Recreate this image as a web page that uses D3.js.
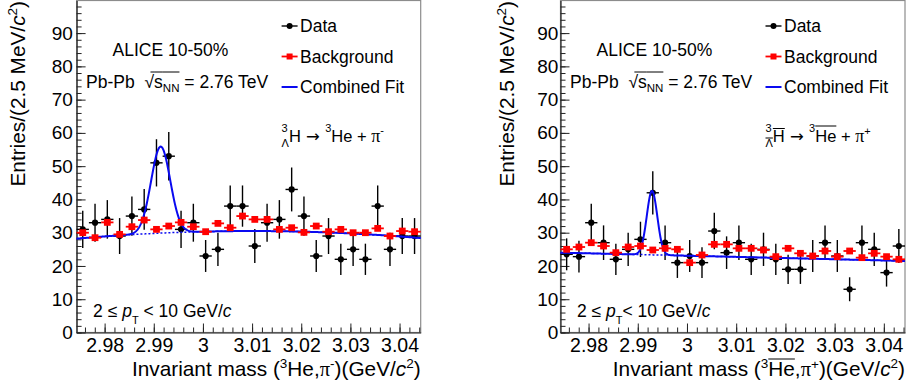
<!DOCTYPE html>
<html>
<head>
<meta charset="utf-8">
<title>Hypertriton invariant mass spectra</title>
<script src="https://d3js.org/d3.v7.min.js"></script>
<style>
  body { margin: 0; padding: 0; background: #fff; }
  svg { display: block; font-family: "Liberation Sans", Arial, Helvetica, sans-serif; }
</style>
</head>
<body>
<div id="graph"></div>
<script>
// histogram: 28 bins of 2.5 MeV
var massRange = [2.9743, 3.0443];
var binWidth = 0.0025;
var binCenters = [2.97555, 2.97805, 2.98055, 2.98305, 2.98555, 2.98805, 2.99055, 2.99305,
  2.99555, 2.99805, 3.00055, 3.00305, 3.00555, 3.00805, 3.01055, 3.01305, 3.01555, 3.01805,
  3.02055, 3.02305, 3.02555, 3.02805, 3.03055, 3.03305, 3.03555, 3.03805, 3.04055, 3.04305];

// left: hypertriton -> 3He + pi-
var dataLeft = [31, 33, 34, 29, 35, 37, 51, 53, 31, 33, 23, 25, 38, 38, 26, 33, 34, 43, 35, 23, 29, 22, 25, 22, 38, 25, 29, 29];
var errLeft = [5.6, 5.7, 5.8, 5.4, 5.9, 6.1, 7.1, 7.3, 5.6, 5.7, 4.8, 5.0, 6.2, 6.2, 5.1, 5.7, 5.8, 6.6, 5.9, 4.8, 5.4, 4.7, 5.0, 4.7, 6.2, 5.0, 5.4, 5.4];
var bkgLeft = [30, 28.5, 33.1, 29.5, 31.8, 33.8, 31, 32, 33.1, 31.8, 30.3, 32.8, 31.5, 35, 34, 34, 31, 31.5, 30.1, 32, 30.3, 31, 30, 30, 31.3, 29, 30.5, 30.3];
// fit: gaussian [mean, sigma, amplitude] + polynomial in (m - 3.01)
var peakLeft = [2.9914, 0.00195, 26];
var polLeft = [30.5, 0, -1800];

// right: anti-hypertriton -> anti-3He + pi+
var dataRight = [23.5, 22.8, 33, 27, 22, 25, 28, 42, 27, 21, 23, 21, 30.5, 24, 27, 22, 25, 22, 19, 19, 23, 27, 23, 13, 27, 25, 18, 26];
var errRight = [4.8, 4.8, 5.7, 5.2, 4.7, 5.0, 5.3, 6.5, 5.2, 4.6, 4.8, 4.6, 5.5, 4.9, 5.2, 4.7, 5.0, 4.7, 4.4, 4.4, 4.8, 5.2, 4.8, 3.6, 5.2, 5.0, 4.2, 5.1];
var bkgRight = [25, 25.7, 27, 26, 24, 25.7, 26, 24.8, 25.3, 25, 21, 23.3, 26.5, 26.5, 25.3, 25.3, 24.8, 22.8, 25.3, 23.8, 23, 24.5, 22.8, 24.5, 22.5, 23.8, 22.8, 22];
var peakRight = [2.9929, 0.00107, 19.2];
var polRight = [22.73, -35.7, 0];
var polRef = 3.01;

// axes
var xTicks = [2.98, 2.99, 3.00, 3.01, 3.02, 3.03, 3.04];
var xTickLabels = ["2.98", "2.99", "3", "3.01", "3.02", "3.03", "3.04"];
var yTicks = [0, 10, 20, 30, 40, 50, 60, 70, 80, 90];
var yMax = 99.8;
var legendLabels = ["Data", "Background", "Combined Fit"];

var W = 909, H = 387;
var plotTop = 0.5, plotBottom = 332.5;
var blue = "#0a0af0", red = "#ff0000";

var svg = d3.select("#graph").append("svg").attr("width", W).attr("height", H);

// draws a run of text pieces (super/subscripts, italics, overlines) one after another
function richText(sel, x, y, parts, size, anchor) {
  var g = sel.append("g");
  var cx = x, stackX = null, stackW = 0;
  parts.forEach(function (p) {
    if (typeof p === "string") p = { t: p };
    var px = (stackX !== null) ? stackX : cx;
    var fs = p.size || size;
    var by = y + (p.dy || 0);
    var t = g.append("text")
      .attr("x", px).attr("y", by)
      .style("font-size", fs + "px")
      .style("font-style", p.it ? "italic" : null)
      .style("font-family", p.font || (p.serif ? "'Liberation Serif', 'DejaVu Serif', serif" : null))
      .text(p.t);
    var w = t.node().getComputedTextLength();
    if (p.over !== undefined) {
      g.append("line").attr("x1", px + (p.ox || 0)).attr("x2", px + w)
        .attr("y1", by + p.over).attr("y2", by + p.over)
        .attr("stroke", "#000").attr("stroke-width", 1);
    }
    if (p.stack) { stackX = px; stackW = w; }
    else if (stackX !== null) { cx = stackX + Math.max(w, stackW); stackX = null; }
    else cx = px + w;
  });
  if (anchor === "end") g.attr("transform", "translate(" + (x - cx) + ",0)");
  return g;
}

function fitBg(m, pol) {
  var d = m - polRef;
  return pol[0] + pol[1] * d + pol[2] * d * d;
}
function fitTotal(m, peak, pol) {
  return fitBg(m, pol) + peak[2] * Math.exp(-0.5 * Math.pow((m - peak[0]) / peak[1], 2));
}

function drawPanel(p) {
  var x = d3.scaleLinear().domain(massRange).range([p.x0, p.x1]);
  var y = d3.scaleLinear().domain([0, yMax]).range([plotBottom, plotTop]);
  var g = svg.append("g");

  // frame
  g.append("rect").attr("x", p.x0).attr("y", plotTop).attr("width", p.x1 - p.x0).attr("height", plotBottom - plotTop)
    .attr("fill", "none").attr("stroke", "#8c8c8c").attr("stroke-width", 1.2);

  // x axis (ticks pointing into the frame)
  var xMinor = d3.range(2.976, 3.0441, 0.002);
  g.append("g").attr("transform", "translate(0," + plotBottom + ")")
    .call(d3.axisBottom(x).tickValues(xMinor).tickSizeInner(-5).tickSizeOuter(0).tickFormat(""))
    .call(function (a) { a.select(".domain").remove(); });
  g.append("g").attr("class", "xaxis").attr("transform", "translate(0," + plotBottom + ")")
    .call(d3.axisBottom(x).tickValues(xTicks).tickSizeInner(-9).tickSizeOuter(0).tickPadding(6)
      .tickFormat(function (d, i) { return xTickLabels[i]; }));

  // y axis
  var yMinor = d3.range(0, yMax, 2);
  g.append("g").attr("transform", "translate(" + p.x0 + ",0)")
    .call(d3.axisLeft(y).tickValues(yMinor).tickSizeInner(-5).tickSizeOuter(0).tickFormat(""))
    .call(function (a) { a.select(".domain").remove(); });
  g.append("g").attr("class", "yaxis").attr("transform", "translate(" + p.x0 + ",0)")
    .call(d3.axisLeft(y).tickValues(yTicks).tickSizeInner(-9).tickSizeOuter(0).tickPadding(p.yPad));

  g.selectAll(".xaxis text, .yaxis text").style("font-size", "19.5px").style("font-family", null).attr("fill", "#000");
  g.selectAll(".yaxis text").style("font-size", "19px");
  g.selectAll(".tick line").attr("stroke", "#222");
  g.selectAll(".domain").attr("stroke", "#222").attr("stroke-width", 1.2);

  var half = x(massRange[0] + binWidth / 2) - x(massRange[0]);

  // data points
  var pts = binCenters.map(function (m, i) { return { m: m, v: p.values[i], e: p.errors[i], b: p.bkg[i] }; });
  var dg = g.append("g");
  dg.selectAll(".ebar").data(pts).enter().append("line")
    .attr("x1", function (d) { return x(d.m); }).attr("x2", function (d) { return x(d.m); })
    .attr("y1", function (d) { return y(d.v - d.e); }).attr("y2", function (d) { return y(d.v + d.e); })
    .attr("stroke", "#000").attr("stroke-width", 1.4);
  dg.selectAll(".hbar").data(pts).enter().append("line")
    .attr("x1", function (d) { return x(d.m) - half; }).attr("x2", function (d) { return x(d.m) + half; })
    .attr("y1", function (d) { return y(d.v); }).attr("y2", function (d) { return y(d.v); })
    .attr("stroke", "#000").attr("stroke-width", 1.4);
  dg.selectAll("circle").data(pts).enter().append("circle")
    .attr("cx", function (d) { return x(d.m); }).attr("cy", function (d) { return y(d.v); })
    .attr("r", 3.1).attr("fill", "#000");

  // fit curves
  var grid = d3.range(massRange[0], massRange[1] + 1e-9, 0.0001);
  var line = d3.line().x(function (d) { return x(d[0]); }).y(function (d) { return y(d[1]); });
  g.append("path").attr("d", line(grid.map(function (m) { return [m, fitBg(m, p.pol)]; })))
    .attr("fill", "none").attr("stroke", blue).attr("stroke-width", 1.5).attr("stroke-dasharray", "2,2");
  g.append("path").attr("d", line(grid.map(function (m) { return [m, fitTotal(m, p.peak, p.pol)]; })))
    .attr("fill", "none").attr("stroke", blue).attr("stroke-width", 2);

  // background points
  var bg = g.append("g");
  bg.selectAll("line").data(pts).enter().append("line")
    .attr("x1", function (d) { return x(d.m) - half; }).attr("x2", function (d) { return x(d.m) + half; })
    .attr("y1", function (d) { return y(d.b); }).attr("y2", function (d) { return y(d.b); })
    .attr("stroke", red).attr("stroke-width", 1.8);
  bg.selectAll("rect").data(pts).enter().append("rect")
    .attr("x", function (d) { return x(d.m) - 3.4; }).attr("y", function (d) { return y(d.b) - 3.4; })
    .attr("width", 6.8).attr("height", 6.8).attr("fill", red);

  // legend
  var lx = p.x0 + 205, tx = p.x0 + 223.5;
  var ly = [26, 56.5, 87];
  g.append("line").attr("x1", lx).attr("x2", lx + 16).attr("y1", ly[0]).attr("y2", ly[0]).attr("stroke", "#000").attr("stroke-width", 1.4);
  g.append("circle").attr("cx", lx + 8).attr("cy", ly[0]).attr("r", 3).attr("fill", "#000");
  g.append("line").attr("x1", lx).attr("x2", lx + 16).attr("y1", ly[1]).attr("y2", ly[1]).attr("stroke", red).attr("stroke-width", 1.8);
  g.append("rect").attr("x", lx + 5).attr("y", ly[1] - 3).attr("width", 6).attr("height", 6).attr("fill", red);
  g.append("line").attr("x1", lx).attr("x2", lx + 16).attr("y1", ly[2]).attr("y2", ly[2]).attr("stroke", blue).attr("stroke-width", 2);
  legendLabels.forEach(function (t, i) {
    g.append("text").attr("x", tx).attr("y", ly[i] + 6.3).style("font-size", "17.5px").text(t);
  });

  // annotations
  g.append("text").attr("x", p.x0 + 36).attr("y", 56).style("font-size", "17.5px").text("ALICE 10-50%");
  richText(g, p.x0 + 9.5, 87.5, [
    "Pb-Pb\u00a0\u00a0", { t: "\u221a", over: -15.5, ox: 6 }, { t: "s", over: -15.5 },
    { t: "NN", size: 11.5, dy: 4, over: -19.5 }, "\u00a0= 2.76 TeV"], 17.5);
  richText(g, p.x0 + 205, 142, p.decay, 16.5);
  richText(g, p.x0 + 16.5, 317, [
    "2\u00a0\u2264\u00a0", { t: "p", it: true }, { t: "T", size: 11, dy: 7 },
    p.ptGap + "<\u00a010 GeV/", { t: "c", it: true }], 17.5);

  // axis titles
  richText(g, p.x1, 375.5, p.xTitle, 20.8, "end");
  var yt = g.append("g").attr("transform", "translate(" + p.yTitleX + ",1) rotate(-90)");
  richText(yt, 0, 0, ["Entries/(2.5 MeV/", { t: "c", it: true }, { t: "2", size: 13.5, dy: -8 }, ")"], 20.8, "end");
}

var arrow = { t: "\u00a0\u2192\u00a0", font: "'DejaVu Sans', sans-serif", size: 16.5 };

drawPanel({
  x0: 76.6, x1: 420.7, yPad: 3.8, yTitleX: 25,
  values: dataLeft, errors: errLeft, bkg: bkgLeft, peak: peakLeft, pol: polLeft, ptGap: "\u00a0",
  decay: [{ t: "3", size: 11, dy: -10.5, stack: true }, { t: "\u039b", size: 11, dy: 5 }, "H",
    arrow, { t: "3", size: 11, dy: -10.5 }, "He\u00a0+\u00a0", { t: "\u03c0", serif: true, size: 18 },
    { t: "-", size: 11, dy: -8.5 }],
  xTitle: ["Invariant mass (", { t: "3", size: 13.5, dy: -7.5 }, "He,", { t: "\u03c0", serif: true, size: 20.5 },
    { t: "-", size: 13.5, dy: -7.5 }, ")(GeV/", { t: "c", it: true }, { t: "2", size: 13.5, dy: -7.5 }, ")"]
});

drawPanel({
  x0: 560.5, x1: 905, yPad: 2.2, yTitleX: 513.5,
  values: dataRight, errors: errRight, bkg: bkgRight, peak: peakRight, pol: polRight, ptGap: "",
  decay: [{ t: "3", size: 11, dy: -10.5, stack: true }, { t: "\u039b", size: 11, dy: 5, over: -9 },
    { t: "H", over: -13.5 }, arrow, { t: "3", size: 11, dy: -10.5 }, { t: "He", over: -16 },
    "\u00a0+\u00a0", { t: "\u03c0", serif: true, size: 18 }, { t: "+", size: 11, dy: -7.5 }],
  xTitle: ["Invariant mass (", { t: "3", size: 13.5, dy: -7.5 }, { t: "He", over: -16.5 }, ",",
    { t: "\u03c0", serif: true, size: 20.5 }, { t: "+", size: 13.5, dy: -6.5 }, ")(GeV/", { t: "c", it: true },
    { t: "2", size: 13.5, dy: -7.5 }, ")"]
});
</script>
</body>
</html>
